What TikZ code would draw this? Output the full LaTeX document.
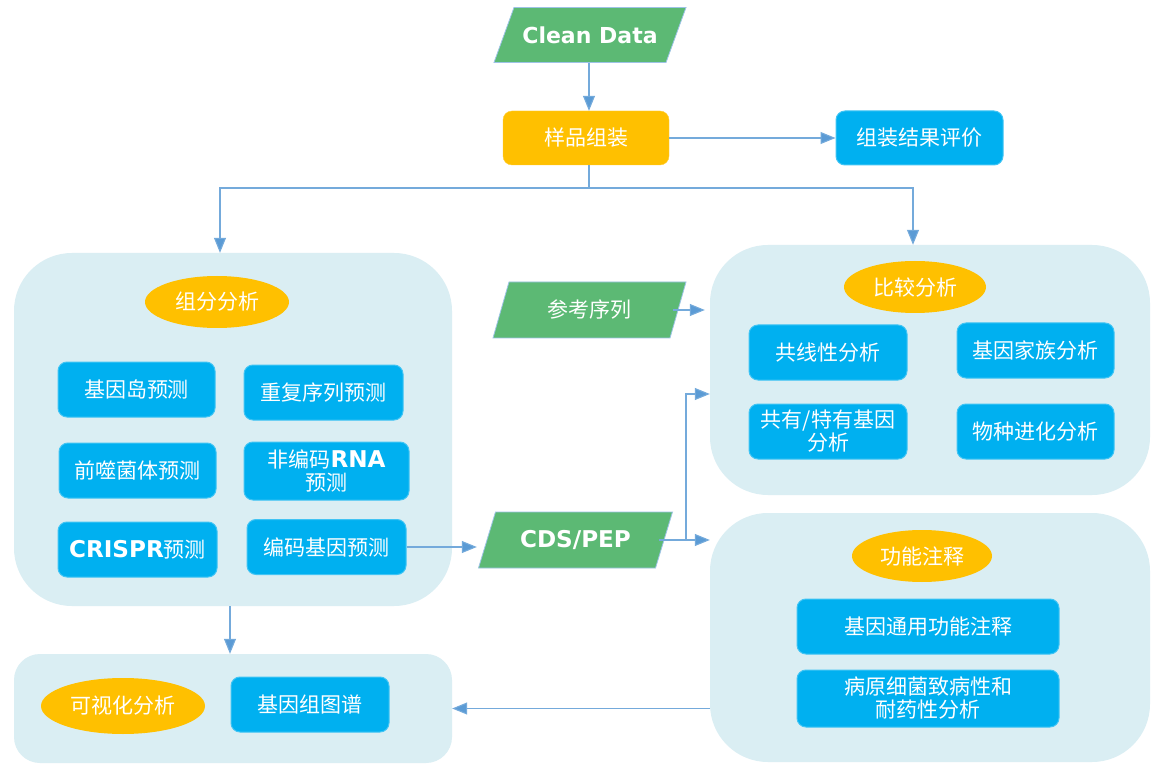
\documentclass[tikz,border=0pt]{standalone}
\usepackage{fontspec}
\setmainfont{Noto Sans CJK SC}
\newfontfamily\lat[Scale=1.1]{DejaVu Sans}
\usetikzlibrary{arrows.meta,shapes.geometric}

\definecolor{grp}{HTML}{DAEEF3}
\definecolor{orng}{HTML}{FFC000}
\definecolor{blu}{HTML}{00B0F0}
\definecolor{grn}{HTML}{5CB974}
\definecolor{lnk}{HTML}{5B9BD5}

\tikzset{
  base/.style={text=white, align=center, inner sep=0pt,
    font=\fontsize{21}{23}\selectfont},
  grpbox/.style={rectangle, fill=grp, rounded corners=58pt, inner sep=0pt},
  item/.style={base, rectangle, rounded corners=9pt, fill=blu,
    draw=blu!75!white, line width=1pt},
  tag/.style={base, ellipse, fill=orng},
  datum/.style={base, rectangle},
  paraframe/.style={fill=grn, draw=lnk!60!white, line width=0.8pt},
  link/.style={draw=lnk!85!white, line width=1.1pt},
  arr/.style={link, -{Triangle[length=15pt,width=12pt,fill=lnk]}},
}

% parallelogram: centre x, centre y, body width, height, slant
\newcommand\paragram[5]{%
  \path[paraframe] ({#1-#3/2+#5/2},{#2-#4/2}) -- ({#1+#3/2+#5/2},{#2-#4/2})
    -- ({#1+#3/2-#5/2},{#2+#4/2}) -- ({#1-#3/2-#5/2},{#2+#4/2}) -- cycle;}

\begin{document}
\begin{tikzpicture}[x=1pt,y=-1pt]
\useasboundingbox (0,0) rectangle (1163,770);
\fill[white] (0,0) rectangle (1163,770);

% top of the pipeline
\paragram{590}{35}{172}{55}{20}
\node[datum, minimum width=172pt, minimum height=55pt,
      font=\bfseries\lat\fontsize{20}{23}\selectfont] (cd) at (590,35) {Clean Data};
\node[base, rectangle, rounded corners=9pt, fill=orng, draw=orng!80!white,
      minimum width=166pt, minimum height=54pt] (asm) at (586,138) {样品组装};
\node[item, minimum width=167pt, minimum height=54pt] (eval) at (919.5,138) {组装结果评价};

% group panels
\node[grpbox, minimum width=438pt, minimum height=353pt] (g1) at (233,429.5) {};
\node[grpbox, minimum width=440pt, minimum height=250pt] (g2) at (930,370) {};
\node[grpbox, minimum width=440pt, minimum height=249pt] (g3) at (930,637.5) {};
\node[grpbox, rounded corners=26pt, minimum width=438pt, minimum height=109pt] (g4) at (233,708.5) {};

% component analysis
\node[tag, minimum width=144pt, minimum height=52pt] (t1) at (217,302) {组分分析};
\node[item, minimum width=157pt, minimum height=55pt] (a1) at (136.5,389.5) {基因岛预测};
\node[item, minimum width=159pt, minimum height=55pt] (a2) at (323.5,392.5) {重复序列预测};
\node[item, minimum width=157pt, minimum height=55pt] (a3) at (137.5,470.5) {前噬菌体预测};
\node[item, minimum width=165pt, minimum height=58pt] (a4) at (326.5,471) {非编码\textbf{\lat RNA}\\预测};
\node[item, minimum width=159pt, minimum height=55pt] (a5) at (137.5,549.5) {\textbf{\lat CRISPR}预测};
\node[item, minimum width=159pt, minimum height=55pt] (a6) at (326.5,547) {编码基因预测};

% sequence data
\paragram{589.5}{310}{177}{56}{16}
\node[datum, minimum width=177pt, minimum height=56pt] (ref) at (589.5,310) {参考序列};
\paragram{575.5}{540}{177}{56}{17}
\node[datum, minimum width=177pt, minimum height=56pt,
      font=\bfseries\lat\fontsize{21}{23}\selectfont] (cds) at (575.5,540) {CDS/PEP};

% comparative analysis
\node[tag, minimum width=142pt, minimum height=52pt] (t2) at (915,287) {比较分析};
\node[item, minimum width=158pt, minimum height=55pt] (b1) at (828,352.5) {共线性分析};
\node[item, minimum width=157pt, minimum height=55pt] (b2) at (1035.5,350.5) {基因家族分析};
\node[item, minimum width=158pt, minimum height=55pt] (b3) at (828,431.5) {共有/特有基因\\分析};
\node[item, minimum width=157pt, minimum height=55pt] (b4) at (1035.5,431.5) {物种进化分析};

% functional annotation
\node[tag, minimum width=140pt, minimum height=52pt] (t3) at (922,556) {功能注释};
\node[item, minimum width=262pt, minimum height=55pt] (c1) at (928,626.5) {基因通用功能注释};
\node[item, minimum width=262pt, minimum height=57pt] (c2) at (928,698.5) {病原细菌致病性和\\耐药性分析};

% visualisation
\node[tag, minimum width=164pt, minimum height=56pt] (t4) at (123,706) {可视化分析};
\node[item, minimum width=158pt, minimum height=55pt] (d1) at (310,704.5) {基因组图谱};

% connectors
\coordinate (br) at (589,188);
\coordinate (jn) at (686,394);
\draw[arr] ([xshift=-1pt]cd.south) -- ([xshift=-1pt]cd.south |- asm.north);
\draw[arr] (asm.east) -- (eval.west);
\draw[link] (br |- asm.south) -- (br);
\draw[arr] (br) -| ([xshift=-13pt]g1.north);
\draw[arr] (br) -| ([xshift=-17pt]g2.north);
\draw[arr] ([xshift=-5pt]ref.east) -- ([xshift=-5pt]ref.east -| g2.west);
\draw[arr] (a6.east) -- ([xshift=-10pt]a6.east -| cds.west);
\draw[arr] ([xshift=-5pt]cds.east) -- (cds.east -| g3.west);
\draw[arr] (jn |- cds.east) -- (jn) -- (jn -| g2.west);
\draw[arr] ([xshift=-3pt]g1.south) -- ([xshift=-3pt]g4.north);
\draw[arr] (g4.east -| g3.west) -- (g4.east);
\end{tikzpicture}
\end{document}
